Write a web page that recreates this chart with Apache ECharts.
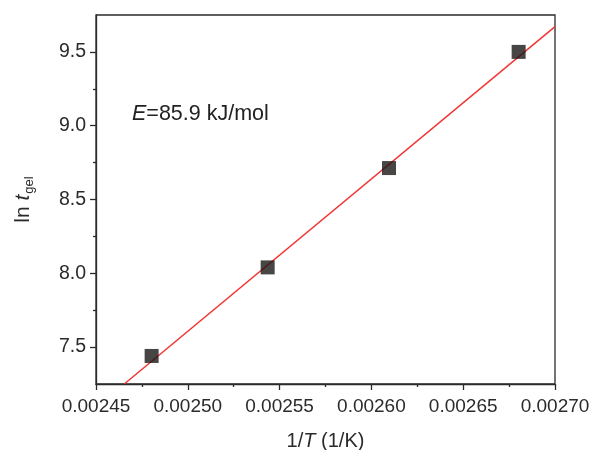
<!DOCTYPE html>
<html><head><meta charset="utf-8">
<script src="https://cdn.jsdelivr.net/npm/echarts@6/dist/echarts.min.js"></script>
<style>html,body{margin:0;padding:0;background:#fff}#c{width:592px;height:450px}</style>
</head><body><div id="c"></div>
<script>
const invT = [0.0024803, 0.0025435, 0.0026096, 0.0026802];
const lnTgel = [7.440, 8.040, 8.713, 9.500];
const fitX = [0.0024654, 0.00270];
const fitY = [7.25, 9.671];
const yMajorTicks = [7.5, 8.0, 8.5, 9.0, 9.5];
const yMinorTicks = [7.75, 8.25, 8.75, 9.25];
const annotation = 'E=85.9 kJ/mol';

const FONT = '"Liberation Sans", Arial, sans-serif';
const AX = '#2b2b2b';
const chart = echarts.init(document.getElementById('c'));
chart.setOption({
  animation: false,
  grid: {left: 96, right: 37, top: 15, bottom: 66, containLabel: false, outerBoundsMode: 'none',
    show: true, borderColor: AX, borderWidth: 1.3, backgroundColor: 'transparent'},
  xAxis: {
    type: 'value', min: 0.00245, max: 0.00270, interval: 0.00005,
    name: '{n|1/}{i|T}{n| (1/K)}', nameLocation: 'middle', nameGap: 47,
    nameTextStyle: {rich: {n: {fontFamily: FONT, fontSize: 20, color: AX}, i: {fontFamily: FONT, fontSize: 20, fontStyle: 'italic', color: AX}}},
    axisLine: {lineStyle: {color: AX, width: 1.3}},
    axisTick: {length: 6, lineStyle: {color: AX, width: 1.3}},
    minorTick: {show: true, splitNumber: 2, length: 3, lineStyle: {color: AX, width: 1.3}},
    splitLine: {show: false},
    axisLabel: {fontFamily: FONT, fontSize: 19, color: AX, margin: 13, formatter: v => v.toFixed(5)}
  },
  yAxis: [{
    type: 'value', min: 7.25, max: 9.75,
    name: '{n|ln }{i|t}{s|gel}', nameLocation: 'middle', nameGap: 60, nameRotate: 90,
    nameTextStyle: {rich: {
      n: {fontFamily: FONT, fontSize: 21, color: AX},
      i: {fontFamily: FONT, fontSize: 21, fontStyle: 'italic', color: AX},
      s: {fontFamily: FONT, fontSize: 13, color: AX, padding: [12, 0, 0, 1]}
    }},
    axisLine: {lineStyle: {color: AX, width: 1.3}},
    axisTick: {customValues: yMajorTicks, length: 6, lineStyle: {color: AX, width: 1.3}},
    splitLine: {show: false},
    axisLabel: {customValues: yMajorTicks, fontFamily: FONT, fontSize: 19.5, color: AX, margin: 10, formatter: v => v.toFixed(1)}
  }, {
    type: 'value', min: 7.25, max: 9.75, position: 'left',
    axisLine: {show: false},
    axisTick: {customValues: yMinorTicks, length: 3, lineStyle: {color: AX, width: 1.3}},
    axisLabel: {show: false},
    splitLine: {show: false}
  }],
  series: [{
    type: 'line', data: fitX.map((x, i) => [x, fitY[i]]), showSymbol: false, symbol: 'none',
    lineStyle: {color: '#f23535', width: 1.5}, z: 3
  }, {
    type: 'scatter', data: invT.map((x, i) => [x, lnTgel[i]]), symbol: 'rect', symbolSize: 14,
    itemStyle: {color: '#1a1717'}, z: 4
  }],
  graphic: [{
    type: 'text', left: 132, top: 103,
    style: {
      text: '{i|E}{n|=85.9 kJ/mol}',
      rich: {
        i: {fontFamily: FONT, fontSize: 21.5, fontStyle: 'italic', fill: '#222'},
        n: {fontFamily: FONT, fontSize: 21.5, fill: '#222'}
      }
    }
  }]
});
</script></body></html>
